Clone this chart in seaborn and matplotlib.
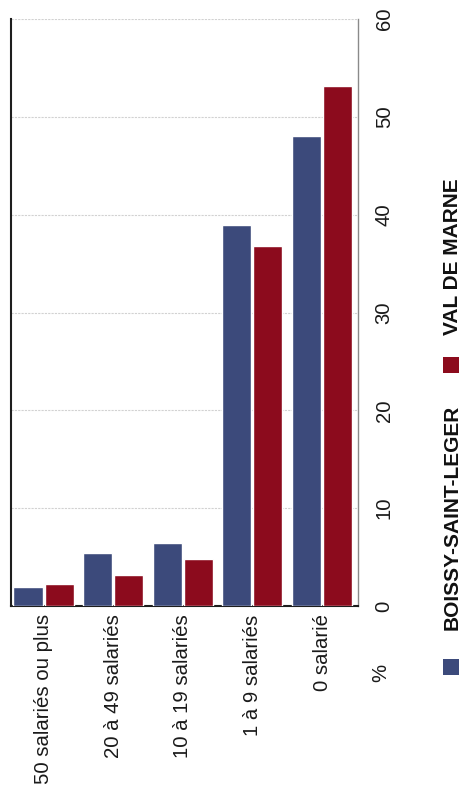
import matplotlib
matplotlib.use("Agg")
import matplotlib.pyplot as plt
from matplotlib.patches import Rectangle
import seaborn as sns
import pandas as pd

# Répartition des établissements selon la taille (en %)
categories = ["50 salariés ou plus", "20 à 49 salariés", "10 à 19 salariés",
              "1 à 9 salariés", "0 salarié"]
boissy = [1.9, 5.4, 6.4, 38.9, 48.0]
val_de_marne = [2.2, 3.2, 4.8, 36.8, 53.2]
zones = ["BOISSY-SAINT-LEGER", "VAL DE MARNE"]
value_ticks = [0, 10, 20, 30, 40, 50, 60]

colors = ["#3c4a7b", "#8c0b1d"]

df = pd.DataFrame({
    "tranche": categories * 2,
    "pct": boissy + val_de_marne,
    "zone": [zones[0]] * len(categories) + [zones[1]] * len(categories),
})

sns.set_theme(style="white")
plt.rcParams["font.family"] = ["Liberation Sans", "DejaVu Sans"]

W, H = 462, 792
fig = plt.figure(figsize=(W / 100, H / 100), dpi=100)
fig.patch.set_facecolor("white")


def fx(px):
    return px / W


def fy(py):
    return 1 - py / H


ax = fig.add_axes([fx(11), fy(606), fx(358) - fx(11), fy(19) - fy(606)])

sns.barplot(data=df, x="tranche", y="pct", hue="zone", order=categories,
            hue_order=zones, palette=colors, saturation=1, width=0.892,
            gap=0.065, legend=False, ax=ax, zorder=3)

ax.set_xlim(-0.467, 4.517)
ax.set_ylim(0, 60)
ax.set_xlabel("")
ax.set_ylabel("")

# value axis on the right, labels reading upward
ax.yaxis.tick_right()
ax.set_yticks(value_ticks)
ax.set_yticklabels([str(v) for v in value_ticks], rotation=90, va="center",
                   fontsize=14.6, color="#1a1a1a")
ax.tick_params(axis="y", length=0, pad=12)

ax.set_xticks(range(len(categories)))
ax.set_xticklabels(categories, rotation=90, ha="center", va="top",
                   fontsize=14.7, color="#1a1a1a")
ax.tick_params(axis="x", length=0, pad=6)

ax.yaxis.grid(True, color="#d2d2d2", linestyle=(0, (2, 1)), linewidth=0.8,
              zorder=0)
ax.xaxis.grid(False)
ax.set_axisbelow(True)

for side in ["left", "bottom"]:
    ax.spines[side].set_visible(True)
    ax.spines[side].set_color("#1e1e1e")
    ax.spines[side].set_linewidth(1.5)
ax.spines["right"].set_color("#8a8a8a")
ax.spines["right"].set_linewidth(1.0)
ax.spines["top"].set_visible(False)

# unit label under the value scale
fig.text(fx(381), fy(673), "%", rotation=90, ha="center", va="center",
         fontsize=14.6, color="#1a1a1a")

# legend drawn vertically along the right edge
legend_items = [(zones[0], colors[0], 659, 630), (zones[1], colors[1], 357, 335)]
for label, color, sq_top, txt_bottom in legend_items:
    fig.patches.append(Rectangle((fx(443), fy(sq_top + 16)), fx(16), 16 / H,
                                 transform=fig.transFigure, facecolor=color,
                                 edgecolor="none"))
    fig.text(fx(452), fy(txt_bottom), label, rotation=90, ha="center",
             va="bottom", fontsize=15, fontweight="bold", color="#111111")

fig.savefig("out.png", dpi=100, facecolor="white")
